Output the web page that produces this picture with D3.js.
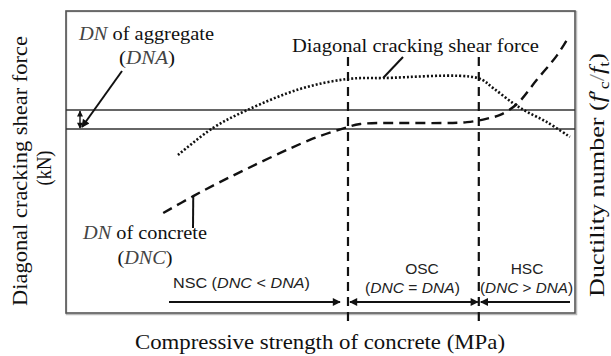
<!DOCTYPE html>
<html><head><meta charset="utf-8">
<script src="https://cdn.jsdelivr.net/npm/d3@7"></script>
<style>
html,body{margin:0;padding:0;background:#fff;}
svg{display:block;}
</style>
</head><body><svg id="chart" width="611" height="356"></svg>
<script>
// Diagonal cracking shear force curve (schematic units 0–100 on both axes)
const shearStrength = [22.0, 28.9, 35.6, 46.0, 55.4, 62.3, 80.9, 83.9, 87.8, 90.6, 94.5, 99.0];
const shearForce    = [52.3, 61.3, 67.2, 74.2, 77.5, 77.8, 77.8, 74.5, 69.5, 66.6, 63.2, 58.3];
// Ductility number of concrete (DNC)
const dncStrength = [19.1, 25.0, 32.2, 47.9, 55.4, 57.8, 78.8, 83.3, 85.3, 88.6, 92.5, 96.5, 98.4];
const dncValue    = [33.1, 38.7, 45.0, 57.3, 61.6, 62.6, 63.2, 64.6, 65.6, 69.2, 77.2, 85.4, 90.4];
// Ductility number of aggregate (DNA): a band
const dnaBand = [60.9, 67.2];
// Strengths separating the three concrete classes
const zoneBounds = [55.4, 81.1];
const zoneNames = ["NSC", "OSC", "HSC"];
const zoneRelations = ["<", "=", ">"];

const svg = d3.select("#chart");
const INK = "#111";
const SERIF = '"Liberation Serif", "Times New Roman", serif';
const SANS = '"Liberation Sans", Arial, sans-serif';

const x = d3.scaleLinear().domain([0, 100]).range([66, 575]);
const y = d3.scaleLinear().domain([0, 100]).range([313, 11]);

// arrowhead markers
const defs = svg.append("defs");
function marker(id, w, h) {
  defs.append("marker").attr("id", id)
    .attr("viewBox", "0 0 10 10").attr("refX", 9).attr("refY", 5)
    .attr("markerWidth", w).attr("markerHeight", h).attr("markerUnits", "userSpaceOnUse")
    .attr("orient", "auto-start-reverse")
    .append("path").attr("d", "M0,0 L10,5 L0,10 Z").attr("fill", INK);
}
marker("head", 10, 8);
marker("headSmall", 7, 6);

// plot frame
const [x0, x1] = x.range();
const [yb, yt] = y.range();
svg.append("rect").attr("x", x0 + 0.5).attr("y", yt + 0.5)
  .attr("width", x1 - x0 + 1).attr("height", yb - yt + 1)
  .attr("fill", "none").attr("stroke", "#bbb").attr("stroke-width", 1.5);
svg.append("rect").attr("x", x0).attr("y", yt)
  .attr("width", x1 - x0).attr("height", yb - yt)
  .attr("fill", "none").attr("stroke", "#555").attr("stroke-width", 1.6);

// DNA band edges
svg.selectAll("line.dna").data(dnaBand).join("line").attr("class", "dna")
  .attr("x1", x0).attr("x2", x1)
  .attr("y1", d => y(d)).attr("y2", d => y(d))
  .attr("stroke", "#333").attr("stroke-width", 1.5);

// zone boundaries
svg.selectAll("line.zone").data(zoneBounds).join("line").attr("class", "zone")
  .attr("x1", d => x(d)).attr("x2", d => x(d))
  .attr("y1", y(84.8)).attr("y2", y(-3))
  .attr("stroke", INK).attr("stroke-width", 2.2).attr("stroke-dasharray", "9,6");

const line = d3.line().x(d => x(d[0])).y(d => y(d[1])).curve(d3.curveCatmullRom.alpha(0.5));

// diagonal cracking shear force (dotted)
svg.append("path").attr("d", line(d3.zip(shearStrength, shearForce)))
  .attr("fill", "none").attr("stroke", INK).attr("stroke-width", 2.6)
  .attr("stroke-dasharray", "2,2");

// DNC (dashed)
svg.append("path").attr("d", line(d3.zip(dncStrength, dncValue)))
  .attr("fill", "none").attr("stroke", INK).attr("stroke-width", 2.4)
  .attr("stroke-dasharray", "10,6");

// text helper: parts are strings or {t, i (italic), sub, fill}
function rich(parts, o) {
  const t = svg.append("text")
    .style("font-family", o.sans ? SANS : SERIF).style("font-size", o.size + "px")
    .attr("fill", o.fill || INK).attr("text-anchor", o.anchor || "start");
  if (o.transform) t.attr("transform", o.transform);
  else t.attr("x", o.x).attr("y", o.y);
  let shifted = 0;
  parts.forEach(p => {
    if (typeof p === "string") p = { t: p };
    const s = t.append("tspan").text(p.t);
    if (p.i) s.style("font-style", "italic");
    if (p.fill) s.attr("fill", p.fill);
    const want = p.sub ? o.size * 0.25 : 0;
    if (want !== shifted) { s.attr("dy", want - shifted); shifted = want; }
    if (p.sub) s.style("font-size", (o.size * 0.68) + "px");
  });
  if (o.len) t.attr("textLength", o.len).attr("lengthAdjust", "spacingAndGlyphs");
  return t;
}
const GREY = "#444";

// DNA annotation
rich([{ t: "DN", i: 1, fill: GREY }, " of aggregate"], { x: 79, y: 40, size: 19, len: 135 });
rich(["(", { t: "DNA", i: 1, fill: GREY }, ")"], { x: 147, y: 64, size: 19, anchor: "middle", len: 56 });
svg.append("line").attr("x1", 122).attr("y1", 71).attr("x2", 82).attr("y2", 127)
  .attr("stroke", INK).attr("stroke-width", 2).attr("marker-end", "url(#head)");
svg.append("line").attr("x1", 80).attr("y1", y(dnaBand[1]) + 1).attr("x2", 80).attr("y2", y(dnaBand[0]) - 1)
  .attr("stroke", INK).attr("stroke-width", 1.4)
  .attr("marker-start", "url(#headSmall)").attr("marker-end", "url(#headSmall)");

// shear force annotation
rich(["Diagonal cracking shear force"], { x: 292, y: 52, size: 19, len: 247 });
svg.append("line").attr("x1", x(62.3)).attr("y1", y(77.8)).attr("x2", 403).attr("y2", 57)
  .attr("stroke", INK).attr("stroke-width", 2);

// DNC annotation
rich([{ t: "DN", i: 1, fill: GREY }, " of concrete"], { x: 83, y: 239, size: 19, len: 124 });
rich(["(", { t: "DNC", i: 1, fill: GREY }, ")"], { x: 145, y: 264, size: 19, anchor: "middle", len: 55 });
svg.append("line").attr("x1", x(25.0)).attr("y1", y(38.7)).attr("x2", 193).attr("y2", 228)
  .attr("stroke", INK).attr("stroke-width", 2);

// zone extents
const zoneY = 302;
const zoneSpans = [[169, x(zoneBounds[0]) - 8], [x(zoneBounds[0]) + 2, x(zoneBounds[1]) - 1], [x1 - 5, x(zoneBounds[1]) + 2]];
const zoneMarks = [[false, true], [true, true], [false, true]];
zoneSpans.forEach((s, i) => {
  const l = svg.append("line").attr("x1", s[0]).attr("x2", s[1]).attr("y1", zoneY).attr("y2", zoneY)
    .attr("stroke", INK).attr("stroke-width", 2);
  if (zoneMarks[i][0]) l.attr("marker-start", "url(#head)");
  if (zoneMarks[i][1]) l.attr("marker-end", "url(#head)");
});

// zone labels
const rel = i => ["(", { t: "DNC", i: 1 }, " " + zoneRelations[i] + " ", { t: "DNA", i: 1 }, ")"];
rich([zoneNames[0] + " "].concat(rel(0)), { x: 173, y: 288, size: 15.5, sans: 1, fill: "#222", len: 137 });
rich([zoneNames[1]], { x: 422, y: 274, size: 15.5, sans: 1, anchor: "middle", fill: "#222" });
rich(rel(1), { x: 365, y: 293, size: 15.5, sans: 1, fill: "#222", len: 95 });
rich([zoneNames[2]], { x: 527, y: 274, size: 15.5, sans: 1, anchor: "middle", fill: "#222" });
rich(rel(2), { x: 480, y: 293, size: 15.5, sans: 1, fill: "#222", len: 93 });

// axis titles
rich(["Compressive strength of concrete (MPa)"], { x: 320, y: 349, size: 21, anchor: "middle", len: 370 });
rich(["Diagonal cracking shear force"], { transform: "translate(27,171) rotate(-90)", size: 21, anchor: "middle", len: 270 });
rich(["(kN)"], { transform: "translate(51,168) rotate(-90)", size: 21, anchor: "middle", len: 35 });
rich(["Ductility number (", { t: "f", i: 1 }, "′", { t: "c", sub: 1 }, { t: "/", fill: "#888" }, { t: "f", i: 1 }, { t: "t", sub: 1 }, ")"],
  { transform: "translate(604,175) rotate(-90)", size: 21, anchor: "middle", len: 244 });
</script></body></html>
